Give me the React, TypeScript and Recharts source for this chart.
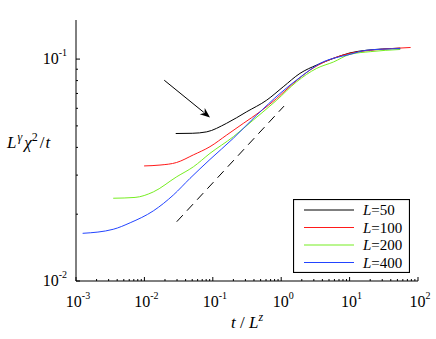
import React from 'react'
import {
  LineChart, Line, XAxis, YAxis, Legend, ReferenceLine,
} from 'recharts'

// Series: t / L^z  vs  L^γ χ² / t
const T_50 = [0.0287, 0.05, 0.0815, 0.158, 0.313, 0.614, 1.07, 1.88, 3.3, 5.8, 10.1, 17.8, 30, 55]
const V_50 = [0.0462, 0.0463, 0.047, 0.0513, 0.0579, 0.0653, 0.075, 0.0862, 0.094, 0.1007, 0.1066, 0.1096, 0.111, 0.112]

const T_100 = [0.0099, 0.0169, 0.0296, 0.0519, 0.091, 0.16, 0.279, 0.49, 0.86, 1.5, 2.64, 4.6, 10.1, 20, 40, 78]
const V_100 = [0.033, 0.0333, 0.0342, 0.037, 0.0403, 0.0455, 0.0513, 0.0579, 0.0665, 0.0777, 0.0892, 0.098, 0.1061, 0.1095, 0.1115, 0.1128]

const T_200 = [0.0035, 0.0073, 0.0135, 0.0297, 0.052, 0.091, 0.2, 0.39, 0.86, 1.68, 3.3, 5.8, 10.1, 20, 55]
const V_200 = [0.0236, 0.0238, 0.0252, 0.0295, 0.0327, 0.0376, 0.0447, 0.0531, 0.0653, 0.079, 0.0908, 0.097, 0.105, 0.108, 0.1105]

const T_400 = [0.00125, 0.0035, 0.0062, 0.0135, 0.0265, 0.0464, 0.091, 0.2, 0.44, 0.96, 1.88, 3.7, 10.1, 17.8, 55]
const V_400 = [0.0164, 0.0171, 0.0183, 0.0207, 0.0244, 0.029, 0.0353, 0.044, 0.056, 0.07, 0.0827, 0.0956, 0.105, 0.1096, 0.1115]

// guide line (slope) and the arrow pointing at the L=50 curve
const GUIDE_T = [0.0297, 1.1]
const GUIDE_V = [0.0185, 0.0614]
const ARROW_T = [0.0195, 0.091]
const ARROW_V = [0.0803, 0.0546]

const X_DOMAIN: [number, number] = [0.001, 100]
const Y_DOMAIN: [number, number] = [0.01, 0.15]
const X_DECADES = [-3, -2, -1, 0, 1, 2]
const Y_DECADES = [-2, -1]

const SERIES = [
  { name: '50', t: T_50, v: V_50, color: '#000000' },
  { name: '100', t: T_100, v: V_100, color: '#ff1a1a' },
  { name: '200', t: T_200, v: V_200, color: '#77ee22' },
  { name: '400', t: T_400, v: V_400, color: '#2244ff' },
]

const zip = (t: number[], v: number[]) => t.map((x, i) => ({ t: x, v: v[i] }))

// major + minor log ticks
function logTicks(decades: number[], max: number) {
  const out: number[] = []
  decades.forEach((d) => {
    for (let m = 1; m <= 9; m++) {
      const val = m * Math.pow(10, d)
      if (val <= max * 1.0001) out.push(+val.toPrecision(6))
    }
  })
  return out
}
const X_TICKS = logTicks(X_DECADES, X_DOMAIN[1])
const Y_TICKS = logTicks(Y_DECADES, 0.1)

const isMajor = (v: number) => {
  const l = Math.log10(v)
  return Math.abs(l - Math.round(l)) < 1e-6
}

const FONT = '"Liberation Serif", "Times New Roman", "DejaVu Serif", serif'
const TXT = { fontFamily: FONT }

function PowLabel({ x, y, v, anchor }: { x: number; y: number; v: number; anchor: 'middle' | 'end' }) {
  return (
    <text x={x} y={y} textAnchor={anchor} fontSize={16} style={TXT} fill="#000">
      10<tspan dy={-8} fontSize={10}>{Math.round(Math.log10(v))}</tspan>
    </text>
  )
}

function TickMark(props: any) {
  const { x, y, payload, side } = props
  const major = isMajor(payload.value)
  const len = major ? 4 : 2
  let line
  if (side === 'bottom') line = <line x1={x} y1={y} x2={x} y2={y - len} stroke="#000" />
  else if (side === 'top') line = <line x1={x} y1={y} x2={x} y2={y + len} stroke="#000" />
  else if (side === 'left') line = <line x1={x} y1={y} x2={x + len} y2={y} stroke="#000" />
  else line = <line x1={x} y1={y} x2={x - len} y2={y} stroke="#000" />
  return (
    <g>
      {line}
      {major && side === 'bottom' && <PowLabel x={x + 2} y={y + 26} v={payload.value} anchor="middle" />}
      {major && side === 'left' && <PowLabel x={x - 9} y={y + 5} v={payload.value} anchor="end" />}
    </g>
  )
}

function Arrow(props: any) {
  const { x1, y1, x2, y2 } = props
  const ang = Math.atan2(y2 - y1, x2 - x1)
  const L = 10
  const W = 4
  const bx = x2 - L * Math.cos(ang)
  const by = y2 - L * Math.sin(ang)
  const px = -Math.sin(ang) * W
  const py = Math.cos(ang) * W
  return (
    <g>
      <line x1={x1} y1={y1} x2={bx + 2 * Math.cos(ang)} y2={by + 2 * Math.sin(ang)} stroke="#000" strokeWidth={1} />
      <polygon points={`${x2},${y2} ${bx + px},${by + py} ${bx + 3 * Math.cos(ang)},${by + 3 * Math.sin(ang)} ${bx - px},${by - py}`} fill="#000" />
    </g>
  )
}

function LegendBox() {
  return (
    <svg width={117} height={74} style={{ display: 'block' }}>
      <rect x={0.5} y={0.5} width={116} height={73} fill="#fff" stroke="#000" strokeWidth={1.2} />
      {SERIES.map((s, i) => {
        const cy = 11 + i * 17.5
        return (
          <g key={s.name}>
            <line x1={11} x2={61} y1={cy} y2={cy} stroke={s.color} strokeWidth={1.2} />
            <text x={70} y={cy + 5} fontSize={15} style={TXT} fill="#000">
              <tspan fontStyle="italic">L</tspan>={s.name}
            </text>
          </g>
        )
      })}
    </svg>
  )
}

function YTitle(props: any) {
  const { viewBox } = props
  const y = viewBox.y + viewBox.height / 2 - 3
  return (
    <text x={7} y={y} fontSize={17} style={TXT} fill="#000">
      <tspan fontStyle="italic">L</tspan>
      <tspan dy={-7} fontSize={12} fontStyle="italic" dx={1}>γ</tspan>
      <tspan dy={7} fontStyle="italic" dx={2}>χ</tspan>
      <tspan dy={-7} fontSize={12}>2</tspan>
      <tspan dy={7} dx={2}>/</tspan>
      <tspan fontStyle="italic" dx={1}>t</tspan>
    </text>
  )
}

function XTitle(props: any) {
  const { viewBox } = props
  const x = viewBox.x + viewBox.width / 2
  return (
    <text x={x} y={viewBox.y + 47} textAnchor="middle" fontSize={17} style={TXT} fill="#000">
      <tspan fontStyle="italic">t</tspan>
      <tspan> / </tspan>
      <tspan fontStyle="italic">L</tspan>
      <tspan dy={-7} fontSize={12} fontStyle="italic">z</tspan>
    </text>
  )
}

export default function App() {
  return (
    <div style={{ position: 'absolute', left: 0, top: 0, background: '#fff', fontFamily: FONT }}>
      <LineChart width={436} height={339} margin={{ top: 20, right: 18, left: 0, bottom: 0 }}>
        <XAxis
          xAxisId="b" type="number" dataKey="t" scale="log" domain={X_DOMAIN} allowDataOverflow
          ticks={X_TICKS} interval={0} height={58} tickSize={0} tickMargin={0}
          axisLine={{ stroke: '#000' }} tickLine={false}
          tick={<TickMark side="bottom" />}
          label={<XTitle />}
        />
        <XAxis
          xAxisId="t" orientation="top" type="number" dataKey="t" scale="log" domain={X_DOMAIN} allowDataOverflow
          ticks={X_TICKS} interval={0} height={0} tickSize={0} tickMargin={0}
          axisLine={{ stroke: '#000' }} tickLine={false}
          tick={<TickMark side="top" />}
        />
        <YAxis
          yAxisId="l" type="number" dataKey="v" scale="log" domain={Y_DOMAIN} allowDataOverflow
          ticks={Y_TICKS} interval={0} width={76} tickSize={0} tickMargin={0}
          axisLine={{ stroke: '#000' }} tickLine={false}
          tick={<TickMark side="left" />}
          label={<YTitle />}
        />
        <YAxis
          yAxisId="r" orientation="right" type="number" dataKey="v" scale="log" domain={Y_DOMAIN} allowDataOverflow
          ticks={Y_TICKS} interval={0} width={0} tickSize={0} tickMargin={0}
          axisLine={{ stroke: '#000' }} tickLine={false}
          tick={<TickMark side="right" />}
        />
        <Line
          xAxisId="b" yAxisId="l" data={zip(GUIDE_T, GUIDE_V)} dataKey="v" stroke="#000"
          strokeWidth={1} strokeDasharray="9 6" dot={false} legendType="none" isAnimationActive={false}
        />
        {SERIES.map((s) => (
          <Line
            key={s.name} type="monotone" xAxisId="b" yAxisId="l" data={zip(s.t, s.v)} dataKey="v" name={`L=${s.name}`}
            stroke={s.color} strokeWidth={1} dot={false} isAnimationActive={false}
          />
        ))}
        <ReferenceLine
          xAxisId="b" yAxisId="l"
          segment={[{ x: ARROW_T[0], y: ARROW_V[0] }, { x: ARROW_T[1], y: ARROW_V[1] }]}
          shape={<Arrow />}
          ifOverflow="visible"
        />
        <Legend
          layout="vertical" align="center" verticalAlign="middle"
          content={<LegendBox />}
          wrapperStyle={{ position: 'absolute', left: 293, top: 199, width: 117, height: 74 }}
        />
      </LineChart>
    </div>
  )
}
